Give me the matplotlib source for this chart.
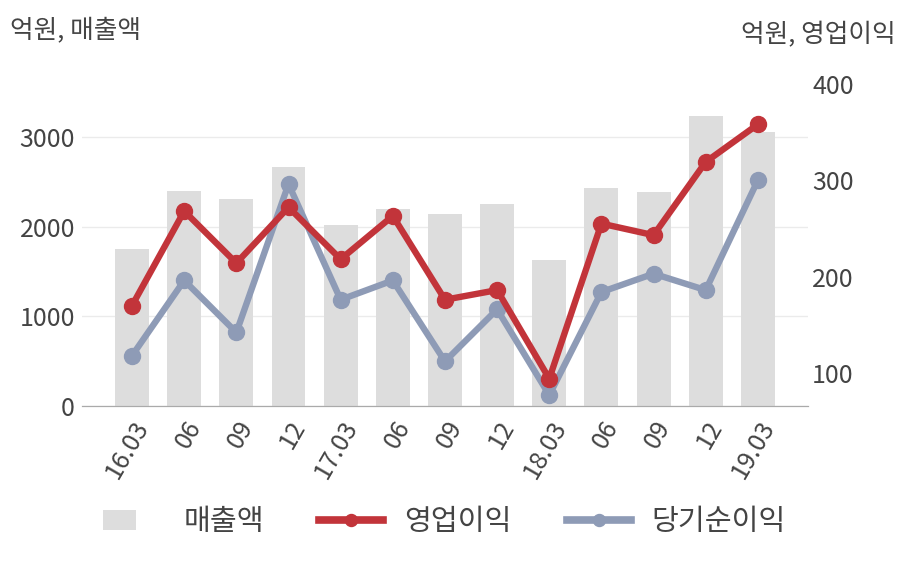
import numpy as np
import matplotlib
matplotlib.use('Agg')
import matplotlib.pyplot as plt
from matplotlib.patches import Rectangle
from matplotlib.legend_handler import HandlerPatch

plt.rcParams['font.family'] = ['Noto Sans CJK KR', 'DejaVu Sans']

# 데이터
quarters = ['16.03', '06', '09', '12', '17.03', '06', '09', '12',
            '18.03', '06', '09', '12', '19.03']
sales = [1750, 2400, 2308, 2664, 2018, 2196, 2140, 2252, 1628, 2430, 2386, 3233, 3058]
op_profit = [170, 268, 214, 272, 218, 263, 176, 186, 94, 255, 243, 319, 358]
net_profit = [118, 196, 142, 296, 176, 196, 112, 166, 77, 184, 203, 186, 300]

text_c = '#444444'
bar_c = '#dddddd'
red_c = '#c2343a'
blue_c = '#8e9bb6'


# 범례의 막대 표시를 작게 그리기
class SmallBox(HandlerPatch):
    def create_artists(self, legend, orig, xd, yd, w, h, fontsize, trans):
        r = Rectangle((-xd + 0.06 * w, -yd + 0.0 * h), 0.52 * w, 1.0 * h,
                      facecolor=orig.get_facecolor(), edgecolor='none', transform=trans)
        return [r]


fig = plt.figure(figsize=(9.08, 5.8), dpi=100)
ax = fig.add_axes([0.0903, 0.30, 0.7995, 0.562])
ax2 = ax.twinx()

x = np.arange(len(quarters))
ax.bar(x, sales, width=0.65, color=bar_c, zorder=2)
ax.set_xlim(-0.96, len(quarters) - 1 + 0.96)
ax.set_ylim(0, 3634)
ax.set_yticks([0, 1000, 2000, 3000])
ax.grid(axis='y', color='#ebebeb', linewidth=1, zorder=0)
ax.set_axisbelow(True)

ln_net, = ax2.plot(x, net_profit, color=blue_c, lw=4.6, marker='o', ms=11.5, zorder=3)
ln_op, = ax2.plot(x, op_profit, color=red_c, lw=4.6, marker='o', ms=11.5, zorder=4)
ax2.set_ylim(65.7, 404)
ax2.set_yticks([100, 200, 300, 400])

for a in (ax, ax2):
    for s in ['top', 'left', 'right']:
        a.spines[s].set_visible(False)
    a.spines['bottom'].set_color('#aaaaaa')
    a.tick_params(length=0, labelsize=18, labelcolor=text_c)
ax.tick_params(axis='y', pad=5)
ax2.tick_params(axis='y', pad=3)

ax.set_xticks(x)
ax.set_xticklabels(quarters, rotation=60, ha='right', rotation_mode='anchor')
ax.tick_params(axis='x', pad=7)

fig.text(10 / 908, 1 - 30 / 580, '억원, 매출액', fontsize=18.5, color=text_c, va='center', ha='left')
fig.text(896 / 908, 1 - 35 / 580, '억원, 영업이익', fontsize=18.5, color=text_c, va='center', ha='right')

bar_handle = Rectangle((0, 0), 1, 1, facecolor=bar_c)
leg = fig.legend([bar_handle, ln_op, ln_net], ['매출액', '영업이익', '당기순이익'],
                 loc='center', bbox_to_anchor=(0.487, 1 - 522 / 580), ncol=3,
                 frameon=False, fontsize=21, labelcolor=text_c, handlelength=2.2,
                 handletextpad=0.7, columnspacing=1.9, markerscale=0.75,
                 handler_map={Rectangle: SmallBox()})
for ln in leg.get_lines():
    ln.set_linewidth(5.5)

fig.savefig('out.png', dpi=100)
